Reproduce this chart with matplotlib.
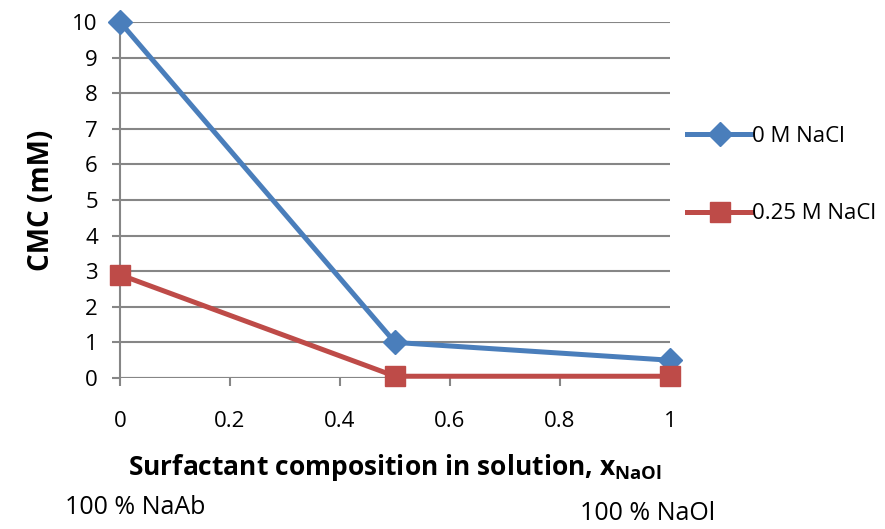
import matplotlib.pyplot as plt

plt.rcParams['font.family'] = ['Open Sans', 'DejaVu Sans']
plt.rcParams['mathtext.fontset'] = 'custom'
plt.rcParams['mathtext.bf'] = 'Open Sans:bold'
plt.rcParams['mathtext.rm'] = 'Open Sans'

# surfactant mole fraction of NaOl
x_naol = [0, 0.5, 1]
cmc_0m = [10, 1.0, 0.5]
cmc_025m = [2.9, 0.05, 0.05]
series_labels = ['0 M NaCl', '0.25 M NaCl']
x_ticks = [0, 0.2, 0.4, 0.6, 0.8, 1]
y_ticks = list(range(0, 11))

blue = '#4A7EBB'
red = '#BE4B48'
grid_c = '#868686'

fig = plt.figure(figsize=(8.85, 5.29), dpi=100)
ax = fig.add_axes([0.1356, 0.2854, 0.6215, 0.673])

ax.plot(x_naol, cmc_0m, color=blue, lw=3.6, marker='D', markersize=12,
        label=series_labels[0], clip_on=False, zorder=3)
ax.plot(x_naol, cmc_025m, color=red, lw=3.6, marker='s', markersize=14,
        label=series_labels[1], clip_on=False, zorder=3)

ax.set_xlim(0, 1)
ax.set_ylim(0, 10)
ax.set_xticks(x_ticks)
ax.set_xticklabels(['0', '0.2', '0.4', '0.6', '0.8', '1'])
ax.set_yticks(y_ticks)

ax.yaxis.grid(True, color=grid_c, lw=1.5)
ax.set_axisbelow(True)
for s in ['top', 'right', 'bottom']:
    ax.spines[s].set_visible(False)
ax.spines['left'].set_color(grid_c)
ax.spines['left'].set_linewidth(1.5)
ax.axhline(0, color=grid_c, lw=1.5, zorder=1)
ax.tick_params(axis='both', colors=grid_c, width=1.5, length=6,
               labelsize=16, labelcolor='black')
ax.tick_params(axis='x', pad=18)
ax.tick_params(axis='y', pad=10)

ax.set_ylabel('CMC (mM)', fontsize=20, fontweight='bold', labelpad=12)
ax.set_xlabel(r'Surfactant composition in solution, $\mathbf{x}_{\mathbf{NaOl}}$',
              fontsize=19, fontweight='bold', labelpad=14)

fig.text(0.073, 0.04, '100 % NaAb', fontsize=18, va='center', ha='left')
fig.text(0.655, 0.03, '100 % NaOl', fontsize=18, va='center', ha='left')

ax.legend(loc='upper left', bbox_to_anchor=(0.995, 0.765), frameon=False,
          fontsize=16, handlelength=2.9, handletextpad=0.0, labelspacing=2.55)

fig.savefig('out.png', dpi=100)
